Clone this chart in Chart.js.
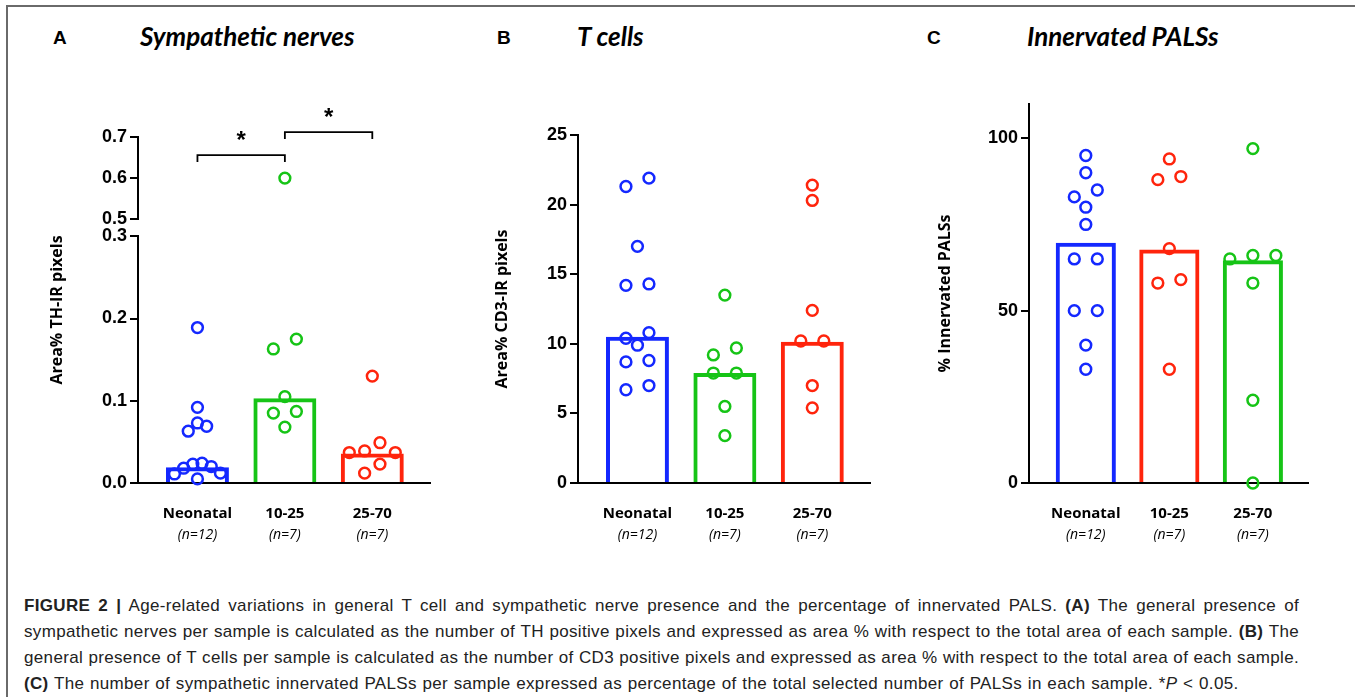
<!DOCTYPE html>
<html lang="en">
<head>
<meta charset="UTF-8">
<title>Figure 2</title>
<script src="https://cdn.jsdelivr.net/npm/chart.js"></script>
<style>
  body { margin: 0; width: 1355px; height: 697px; background: #fff; position: relative; overflow: hidden; }
  .frame { position: absolute; left: 6px; top: 5px; right: -2px; bottom: -2px; border-top: 2px solid #6a6a6a; border-left: 2px solid #6a6a6a; }
  .lbl { position: absolute; top: 28px; font: bold 19px "Liberation Sans", Arial, sans-serif; line-height: 19px; }
  .ttl { position: absolute; top: 23px; font: italic bold 26px Lato, sans-serif; line-height: 26px; }
  canvas { position: absolute; top: 90px; }
  .caption { position: absolute; left: 24px; top: 593px; width: 1275px; font: 17px "Liberation Sans", Arial, sans-serif; letter-spacing: 0.34px; line-height: 26px; color: #222; }
  .caption div { height: 26px; white-space: nowrap; }
  .caption .j { white-space: normal; text-align: justify; text-align-last: justify; }
  .caption .last { word-spacing: 0.6px; }
</style>
</head>
<body>

<div class="frame"></div>

<span class="lbl" style="left:53px">A</span>
<span class="ttl" style="left:140px">Sympathetic nerves</span>
<span class="lbl" style="left:497px">B</span>
<span class="ttl" style="left:577px">T cells</span>
<span class="lbl" style="left:927px">C</span>
<span class="ttl" style="left:1027px">Innervated PALSs</span>

<canvas id="chartA" width="445" height="470" style="left:0px"></canvas>
<canvas id="chartB" width="440" height="470" style="left:445px"></canvas>
<canvas id="chartC" width="450" height="470" style="left:880px"></canvas>

<div class="caption">
<div class="j"><b>FIGURE 2 |</b> Age-related variations in general T cell and sympathetic nerve presence and the percentage of innervated PALS. <b>(A)</b> The general presence of</div>
<div class="j">sympathetic nerves per sample is calculated as the number of TH positive pixels and expressed as area % with respect to the total area of each sample. <b>(B)</b> The</div>
<div class="j">general presence of T cells per sample is calculated as the number of CD3 positive pixels and expressed as area % with respect to the total area of each sample.</div>
<div class="last"><b>(C)</b> The number of sympathetic innervated PALSs per sample expressed as percentage of the total selected number of PALSs in each sample. *<i>P</i> &lt; 0.05.</div>
</div>

<script>
    // groups (x axis)
    const groups = ['Neonatal', '10-25', '25-70'];
    const groupN = ['(n=12)', '(n=7)', '(n=7)'];

    // A - sympathetic nerves, Area% TH-IR pixels
    const thNeonatal = [0.189, 0.092, 0.073, 0.069, 0.063, 0.024, 0.023, 0.020, 0.018, 0.012, 0.011, 0.005];
    const th1025 = [0.600, 0.175, 0.163, 0.105, 0.087, 0.085, 0.068];
    const th2570 = [0.130, 0.049, 0.039, 0.037, 0.037, 0.023, 0.012];
    const thMedian = [0.019, 0.103, 0.036];
    const thTicksLow = [0, 0.1, 0.2, 0.3];
    const thTicksHigh = [0.5, 0.6, 0.7];
    const thSignificant = [[0, 1], [1, 2]];

    // B - T cells, Area% CD3-IR pixels
    const cd3Neonatal = [21.9, 21.3, 17.0, 14.3, 14.2, 10.8, 10.4, 9.9, 8.8, 8.7, 7.0, 6.7];
    const cd31025 = [13.5, 9.7, 9.2, 7.9, 7.9, 5.5, 3.4];
    const cd32570 = [21.4, 20.3, 12.4, 10.2, 10.2, 7.0, 5.4];
    const cd3Median = [10.5, 7.9, 10.15];
    const cd3Ticks = [0, 5, 10, 15, 20, 25];

    // C - innervated PALSs, %
    const palsNeonatal = [95, 90, 85, 83, 80, 75, 65, 65, 50, 50, 40, 33];
    const pals1025 = [94, 88.9, 88, 68, 59, 58, 33];
    const pals2570 = [97, 66, 66, 65, 58, 24, 0];
    const palsMedian = [69.7, 67.7, 64.6];
    const palsTicks = [0, 50, 100];

    const BLUE = 'rgb(20, 40, 255)';
    const GREEN = 'rgb(22, 196, 22)';
    const RED = 'rgb(255, 36, 12)';

    Chart.defaults.color = '#000';
    Chart.defaults.font.family = '"Open Sans", sans-serif';

    const tickFont = { family: '"Liberation Sans", Arial, sans-serif', size: 18, weight: 'bold' };
    const titleFont = { family: '"Open Sans", sans-serif', size: 16, weight: 'bold' };

    // x axes: group name + n below it
    function xAxes() {
        const base = {
            type: 'linear', position: 'bottom', min: -0.68, max: 2.66, offset: false,
            grid: { display: false, drawTicks: false },
            afterBuildTicks: s => { s.ticks = groups.map((g, i) => ({ value: i })); }
        };
        return {
            x: Object.assign({}, base, {
                border: { display: true, color: '#000', width: 2 },
                ticks: { padding: 22, autoSkip: false, maxRotation: 0, color: '#000',
                    font: { size: 15, weight: 'bold' }, callback: v => groups[v] },
                afterFit: s => { s.height = 42; }
            }),
            x2: Object.assign({}, base, {
                border: { display: false },
                ticks: { padding: 2, autoSkip: false, maxRotation: 0, color: '#000',
                    font: { size: 14, style: 'italic' }, callback: v => groupN[v] },
                afterFit: s => { s.height = 35; }
            })
        };
    }

    function yAxis(min, max, ticks, fmt, width, extra) {
        return Object.assign({
            type: 'linear', position: 'left', min: min, max: max,
            border: { display: true, color: '#000', width: 2 },
            grid: { display: true, drawOnChartArea: false, drawTicks: true, tickLength: 8,
                tickWidth: 2, lineWidth: 2, color: '#000', tickColor: '#000' },
            ticks: { padding: 3, color: '#000', font: tickFont, callback: fmt },
            afterBuildTicks: s => { s.ticks = ticks.map(v => ({ value: v })); },
            afterFit: s => { s.width = width; }
        }, extra || {});
    }

    function barSet(values, colors) {
        return {
            type: 'bar', order: 2, yAxisID: 'y',
            data: values.map((v, i) => ({ x: i, y: v })),
            borderColor: colors, backgroundColor: 'rgba(0,0,0,0)',
            borderWidth: 4, borderSkipped: 'start'
        };
    }

    function pointSet(values, group, color, axis) {
        return {
            type: 'scatter', order: 1, group: group, yAxisID: axis || 'y', clip: false,
            data: values.map(v => ({ x: group, y: v })),
            pointRadius: 5.4, pointBorderWidth: 2.5,
            borderColor: color, backgroundColor: 'rgba(0,0,0,0)',
            pointBorderColor: color, pointBackgroundColor: 'rgba(0,0,0,0)'
        };
    }

    // GraphPad-like scatter: points close in height share a row, spread sideways
    function swarm(pys) {
        const DIA = 12, STEP = 23, SPAN = 46;
        const order = pys.map((p, i) => i).sort((a, b) => pys[a] - pys[b]);
        const rows = [];
        let row = null;
        order.forEach(i => {
            if (row && pys[i] - row.top < DIA) row.items.push(i);
            else { row = { top: pys[i], items: [i] }; rows.push(row); }
        });
        const maxN = Math.max(...rows.map(r => r.items.length));
        const step = maxN > 1 ? Math.min(STEP, SPAN / (maxN - 1)) : STEP;
        const offs = new Array(pys.length).fill(0);
        rows.forEach(r => {
            const n = r.items.length;
            const slots = [];
            for (let k = 0; k < n; k++) slots.push(k - (n - 1) / 2);
            slots.sort((a, b) => Math.abs(a) - Math.abs(b) || b - a);
            r.items.forEach((i, k) => { offs[i] = slots[k] * step; });
        });
        return offs;
    }

    function spreadPoints(chart) {
        const xs = chart.scales.x;
        const pxPerGroup = xs.getPixelForValue(1) - xs.getPixelForValue(0);
        const byGroup = {};
        chart.data.datasets.forEach(ds => {
            if (ds.group === undefined) return;
            const ys = chart.scales[ds.yAxisID];
            ds.data.forEach(pt => {
                (byGroup[ds.group] = byGroup[ds.group] || []).push({ pt: pt, py: ys.getPixelForValue(pt.y) });
            });
        });
        Object.keys(byGroup).forEach(g => {
            const offs = swarm(byGroup[g].map(p => p.py));
            byGroup[g].forEach((p, k) => { p.pt.x = Number(g) + offs[k] / pxPerGroup; });
        });
        chart.update('none');
    }

    // significance brackets with stars
    const bracketPlugin = {
        id: 'brackets',
        afterDraw(chart, args, opts) {
            if (!opts.pairs) return;
            const ctx = chart.ctx;
            const xs = chart.scales.x, ys = chart.scales[opts.axis];
            ctx.save();
            ctx.strokeStyle = '#000';
            ctx.lineWidth = 1.8;
            ctx.fillStyle = '#000';
            ctx.font = 'bold 24px "Liberation Sans", Arial, sans-serif';
            ctx.textAlign = 'center';
            ctx.textBaseline = 'alphabetic';
            opts.pairs.forEach((pair, k) => {
                const x1 = xs.getPixelForValue(pair[0]);
                const x2 = xs.getPixelForValue(pair[1]);
                const y = ys.getPixelForValue(opts.levels[k]);
                ctx.beginPath();
                ctx.moveTo(x1, y + 7);
                ctx.lineTo(x1, y);
                ctx.lineTo(x2, y);
                ctx.lineTo(x2, y + 7);
                ctx.stroke();
                ctx.fillText('*', (x1 + x2) / 2, y - 7);
            });
            ctx.restore();
        }
    };

    function baseOptions(padding) {
        return {
            responsive: false,
            animation: false,
            events: [],
            layout: { padding: padding },
            plugins: { legend: { display: false }, tooltip: { enabled: false } }
        };
    }

    // ---- A: broken y axis (0-0.3 and 0.5-0.7)
    const lowA = v => v <= 0.3;
    const optsA = baseOptions({ left: 0, right: 15, top: 47, bottom: 0 });
    optsA.plugins.brackets = { axis: 'yTop', pairs: thSignificant, levels: [0.656, 0.712] };
    optsA.scales = Object.assign(xAxes(), {
        y: yAxis(0, 0.3, thTicksLow, v => v.toFixed(1), 58, { stack: 'th', stackWeight: 246 }),
        yGap: { type: 'linear', position: 'left', display: false, stack: 'th', stackWeight: 17 },
        yTop: yAxis(0.5, 0.7, thTicksHigh, v => v.toFixed(1), 58, { stack: 'th', stackWeight: 82 }),
        yTitle: {
            type: 'linear', position: 'left', weight: 5,
            grid: { display: false }, border: { display: false }, ticks: { display: false },
            title: { display: true, text: 'Area% TH-IR pixels', color: '#000', font: titleFont, padding: { top: 48, bottom: 0 } },
            afterFit: s => { s.width = 80; }
        }
    });
    const chartA = new Chart(document.getElementById('chartA'), {
        type: 'bar',
        data: {
            datasets: [
                barSet(thMedian, [BLUE, GREEN, RED]),
                pointSet(thNeonatal, 0, BLUE),
                pointSet(th1025.filter(lowA), 1, GREEN),
                pointSet(th1025.filter(v => !lowA(v)), 1, GREEN, 'yTop'),
                pointSet(th2570, 2, RED)
            ]
        },
        options: optsA,
        plugins: [bracketPlugin]
    });
    spreadPoints(chartA);

    // ---- B
    const optsB = baseOptions({ left: 0, right: 15, top: 45, bottom: 0 });
    optsB.scales = Object.assign(xAxes(), {
        y: yAxis(0, 25, cd3Ticks, v => v, 133, {
            title: { display: true, text: 'Area% CD3-IR pixels', color: '#000', font: titleFont, padding: { top: 48, bottom: 0 } }
        })
    });
    const chartB = new Chart(document.getElementById('chartB'), {
        type: 'bar',
        data: {
            datasets: [
                barSet(cd3Median, [BLUE, GREEN, RED]),
                pointSet(cd3Neonatal, 0, BLUE),
                pointSet(cd31025, 1, GREEN),
                pointSet(cd32570, 2, RED)
            ]
        },
        options: optsB
    });
    spreadPoints(chartB);

    // ---- C
    const optsC = baseOptions({ left: 0, right: 22, top: 11, bottom: 0 });
    optsC.scales = Object.assign(xAxes(), {
        y: yAxis(0, 110, palsTicks, v => v, 149, {
            title: { display: true, text: '% Innervated PALSs', color: '#000', font: titleFont, padding: { top: 56, bottom: 0 } }
        })
    });
    const chartC = new Chart(document.getElementById('chartC'), {
        type: 'bar',
        data: {
            datasets: [
                barSet(palsMedian, [BLUE, RED, GREEN]),
                pointSet(palsNeonatal, 0, BLUE),
                pointSet(pals1025, 1, RED),
                pointSet(pals2570, 2, GREEN)
            ]
        },
        options: optsC
    });
    spreadPoints(chartC);
</script>

</body>
</html>
